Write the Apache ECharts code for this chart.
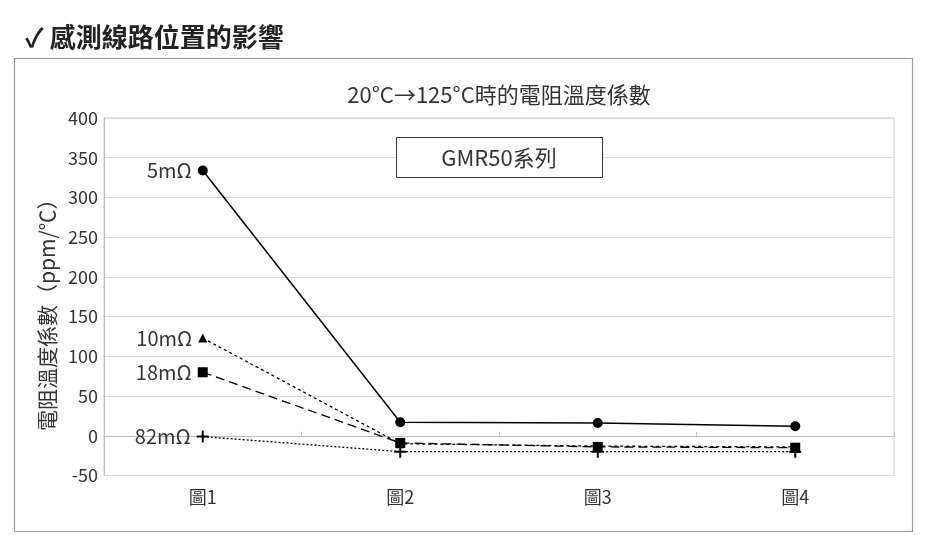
<!DOCTYPE html>
<html><head><meta charset="utf-8">
<script src="https://cdn.jsdelivr.net/npm/echarts@6/dist/echarts.min.js"></script>
<style>html,body{margin:0;padding:0;background:#fff}#c{width:950px;height:535px}</style>
</head><body><div id="c"></div>
<script>
const categories = ['圖1','圖2','圖3','圖4'];
const yTicks = { min: -50, max: 400, interval: 50 };
const seriesNames = ['5mΩ','10mΩ','18mΩ','82mΩ'];
const s5 = [334, 17, 16, 12];
const s10 = [123, -10, -13, -14];
const s18 = [80, -9, -14, -15];
const s82 = [-1, -20, -20, -20];
const headerText = '✓ 感測線路位置的影響';
const chartTitle = '20°C→125°C時的電阻溫度係數';
const boxText = 'GMR50系列';
const yName = '電阻溫度係數（ppm/℃）';

const font = '"Noto Sans CJK TC","Noto Sans",sans-serif';
const chart = echarts.init(document.getElementById('c'));

function mk(name, data, symbol, size, type) {
  return {
    name, type: 'line', symbol, symbolSize: size,
    itemStyle: { color: '#000' },
    lineStyle: { color: '#000', width: name === '5mΩ' ? 1.5 : 1.3, type },
    label: { show: false },
    data: data.map((v, i) => i === 0 ? {
      value: v,
      label: { show: true, position: 'left', distance: 6, formatter: name, color: '#333', fontSize: 20, fontFamily: font }
    } : v),
    z: 3
  };
}

chart.setOption({
  animation: false,
  textStyle: { fontFamily: font },
  title: [
    { text: headerText, left: 20, top: 19, textStyle: { fontSize: 26, fontWeight: 'bold', color: '#222', fontFamily: font } },
    { text: chartTitle, left: 494, textAlign: 'center', top: 79, textStyle: { fontSize: 22, fontWeight: 'normal', color: '#333', fontFamily: font } }
  ],
  graphic: [
    { type: 'rect', shape: { x: 14.5, y: 58.5, width: 898, height: 473 }, style: { fill: 'none', stroke: '#999', lineWidth: 1.2 }, z: -1 },
    { type: 'rect', shape: { x: 396.5, y: 137.5, width: 206, height: 40 }, style: { fill: '#fff', stroke: '#333', lineWidth: 1 }, z: 10 },
    { type: 'text', x: 499, y: 158, style: { text: boxText, fill: '#333', fontSize: 22, fontFamily: font, align: 'center', verticalAlign: 'middle' }, z: 11 }
  ],
  grid: { left: 104, right: 56, top: 118, bottom: 59.5, show: true, borderColor: '#ccc', borderWidth: 1 },
  xAxis: {
    type: 'category', data: categories, boundaryGap: true,
    axisLine: { lineStyle: { color: '#bbb' } },
    axisTick: { show: true, inside: true, length: 4, lineStyle: { color: '#bbb' } },
    axisLabel: { color: '#333', fontSize: 18, margin: 13, fontFamily: font }
  },
  yAxis: {
    type: 'value', min: yTicks.min, max: yTicks.max, interval: yTicks.interval,
    name: yName, nameLocation: 'middle', nameGap: 44,
    nameTextStyle: { fontSize: 21, color: '#333', fontFamily: font, padding: [0, 26, 0, 0] },
    axisLine: { show: true, lineStyle: { color: '#bbb' } },
    axisTick: { show: false },
    axisLabel: { color: '#333', fontSize: 18, margin: 6, fontFamily: font },
    splitLine: { lineStyle: { color: '#d9d9d9' } }
  },
  series: [
    mk(seriesNames[0], s5, 'circle', 10, 'solid'),
    mk(seriesNames[1], s10, 'triangle', 9, [3, 3]),
    mk(seriesNames[2], s18, 'rect', 10, [9, 5]),
    mk(seriesNames[3], s82, 'path://M-1,-6H1V-1H6V1H1V6H-1V1H-6V-1H-1Z', 12, [2, 2])
  ]
});
</script></body></html>
